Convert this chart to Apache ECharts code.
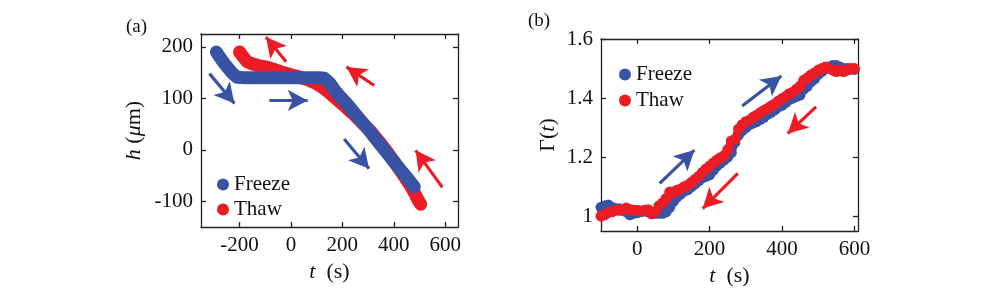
<!DOCTYPE html>
<html>
<head>
<meta charset="utf-8">
<script src="https://cdn.jsdelivr.net/npm/echarts@6/dist/echarts.min.js"></script>
<style>html,body{margin:0;padding:0;background:#fff;}#c{width:996px;height:303px;}</style>
</head>
<body>
<div id="c"></div>
<script>
// ---- Panel (a): h (um) vs t (s)
const freezeA = [[-290,190],[-270,175],[-250,162],[-230,150],[-210,141],[-180,140],[-100,140],[0,140],[60,140],[110,140],[130,139],[150,130],[170,116],[190,104],[220,88],[260,64],[300,40],[340,15],[380,-10],[420,-35],[450,-53],[480,-72]];
const thawA = [[-200,190],[-185,180],[-170,171],[-150,167],[-120,163],[-90,160],[-60,155],[-30,150],[0,146],[30,142],[60,137],[90,131],[115,124],[140,115],[160,106],[190,93],[220,80],[250,66],[280,51],[310,36],[340,18],[370,-1],[400,-22],[430,-44],[460,-66],[480,-83],[495,-98],[505,-106]];
const xTicksA = [-200,0,200,400,600];
const yTicksA = [-100,0,100,200];

// ---- Panel (b): Gamma(t) vs t (s)
const tB = [-100,-90,-80,-70,-60,-50,-40,-30,-20,-10,0,10,20,30,40,50,60,70,80,90,100,110,120,130,140,150,160,170,180,190,200,210,220,230,240,250,260,270,280,290,300,310,320,330,340,350,360,370,380,390,400,410,420,430,440,450,460,470,480,490,500,510,520,530,540,550,560,570,580,590,600];
const freezeB = [1.03,1.035,1.038,1.03,1.025,1.025,1.02,1.015,1.005,1.01,1.012,1.015,1.018,1.015,1.012,1.01,1.01,1.01,1.015,1.03,1.05,1.065,1.075,1.085,1.09,1.1,1.11,1.12,1.13,1.135,1.14,1.155,1.17,1.18,1.19,1.2,1.215,1.25,1.275,1.29,1.3,1.31,1.315,1.32,1.328,1.335,1.345,1.352,1.36,1.37,1.375,1.385,1.395,1.4,1.405,1.41,1.43,1.44,1.455,1.465,1.48,1.49,1.5,1.505,1.51,1.51,1.505,1.5,1.5,1.498,1.497];
const thawB = [1.0,1.005,1.012,1.015,1.02,1.02,1.022,1.028,1.022,1.02,1.02,1.018,1.02,1.022,1.008,1.015,1.035,1.045,1.06,1.082,1.08,1.088,1.092,1.1,1.105,1.115,1.125,1.135,1.148,1.16,1.17,1.18,1.19,1.198,1.205,1.225,1.255,1.26,1.295,1.31,1.32,1.325,1.335,1.342,1.35,1.358,1.365,1.373,1.38,1.39,1.398,1.405,1.415,1.42,1.43,1.44,1.46,1.468,1.478,1.485,1.494,1.5,1.505,1.5,1.495,1.49,1.495,1.49,1.495,1.5,1.5];
const xTicksB = [0,200,400,600];
const yTicksB = [1,1.2,1.4,1.6];

// ---- Arrow annotations (data coordinates: [tail, tip])
const arrowsBlueA = [[[-317,148],[-220,90]],[[-84,96],[65,96]],[[207,21],[304,-37]]];
const arrowsRedA = [[[-19,171],[-97,219]],[[324,125],[216,161]],[[589,-73],[485,-1]]];
const arrowsBlueB = [[[62,1.111],[158,1.224]],[[290,1.373],[398,1.475]]];
const arrowsRedB = [[[278,1.145],[181,1.026]],[[494,1.37],[416,1.28]]];

const BLUE = '#3953a4', RED = '#ec1c24', INK = '#222';
const FONT = 'Liberation Serif';

const zip = (xs, ys) => xs.map((x, i) => [x, ys[i]]);
const mk = (list, color) => ({
  silent: true, symbol: ['none', 'arrow'], symbolSize: [16, 20],
  label: {show: false}, emphasis: {disabled: true},
  lineStyle: {color: color, width: 3.2, type: 'solid'},
  data: list.map(p => [{coord: p[0]}, {coord: p[1]}])
});

function axisPair(dir, gridIndex, min, max, ticks, name, nameGap, fmt) {
  const common = {
    type: 'value', gridIndex, min, max, splitLine: {show: false},
    axisLine: {show: true, onZero: false, lineStyle: {color: INK, width: 1.3}},
    axisTick: {show: true, inside: true, length: 5, customValues: ticks, lineStyle: {color: INK, width: 1.3}}
  };
  const main = Object.assign({}, common, {
    position: dir === 'x' ? 'bottom' : 'left',
    axisLabel: {show: true, customValues: ticks, fontFamily: FONT, fontSize: 21, color: '#111', margin: 8, formatter: fmt},
    name: name, nameLocation: 'middle', nameGap: nameGap,
    nameTextStyle: {fontFamily: FONT, fontSize: 22, color: '#111', rich: {i: {fontFamily: FONT, fontSize: 22, fontStyle: 'italic', color: '#111'}}}
  });
  const mirror = Object.assign({}, common, {
    position: dir === 'x' ? 'top' : 'right',
    axisLabel: {show: false}
  });
  return [main, mirror];
}

const chart = echarts.init(document.getElementById('c'), null, {renderer: 'canvas'});
const xa = axisPair('x', 0, -350, 650, xTicksA, '{i|t}  (s)', 34, v => String(v));
const ya = axisPair('y', 0, -150, 225, yTicksA, '{i|h} ({i|μ}m)', 56, v => String(v));
const xb = axisPair('x', 1, -100, 610, xTicksB, '{i|t}  (s)', 34, v => String(v));
const yb = axisPair('y', 1, 0.95, 1.6, yTicksB, 'Γ({i|t})', 42, v => (v === 1 ? '1' : v.toFixed(1)));

chart.setOption({
  animation: false,
  backgroundColor: '#fff',
  title: [
    {text: '(a)', left: 121, top: 13, textStyle: {fontFamily: FONT, fontSize: 19, fontWeight: 'normal', color: '#111'}},
    {text: '(b)', left: 523, top: 7, textStyle: {fontFamily: FONT, fontSize: 19, fontWeight: 'normal', color: '#111'}}
  ],
  grid: [
    {left: 201, top: 34, width: 257, height: 193},
    {left: 601, top: 39, width: 257, height: 192}
  ],
  legend: [
    {data: ['Freeze', 'Thaw'], orient: 'vertical', left: 212, top: 169, itemWidth: 12, itemHeight: 12, itemGap: 4, icon: 'circle',
     textStyle: {fontFamily: FONT, fontSize: 21, color: '#111', lineHeight: 21}},
    {data: ['Freeze', 'Thaw'], orient: 'vertical', left: 614, top: 59, itemWidth: 12, itemHeight: 12, itemGap: 5, icon: 'circle',
     textStyle: {fontFamily: FONT, fontSize: 21, color: '#111', lineHeight: 21}}
  ],
  xAxis: [xa[0], xa[1], xb[0], xb[1]],
  yAxis: [ya[0], ya[1], yb[0], yb[1]],
  series: [
    {name: 'Thaw', type: 'line', xAxisIndex: 0, yAxisIndex: 0, data: thawA, showSymbol: false, symbol: 'circle',
     itemStyle: {color: RED}, lineStyle: {color: RED, width: 13, cap: 'round', join: 'round'}, z: 2,
     markLine: mk(arrowsRedA, RED)},
    {name: 'Freeze', type: 'line', xAxisIndex: 0, yAxisIndex: 0, data: freezeA, showSymbol: false, symbol: 'circle',
     itemStyle: {color: BLUE}, lineStyle: {color: BLUE, width: 13, cap: 'round', join: 'round'}, z: 3,
     markLine: mk(arrowsBlueA, BLUE)},
    {name: 'Freeze', type: 'line', xAxisIndex: 2, yAxisIndex: 2, data: zip(tB, freezeB), symbol: 'circle', symbolSize: 11, showAllSymbol: true,
     itemStyle: {color: BLUE}, lineStyle: {color: BLUE, width: 8, cap: 'round', join: 'round'}, z: 2,
     markLine: mk(arrowsBlueB, BLUE)},
    {name: 'Thaw', type: 'line', xAxisIndex: 2, yAxisIndex: 2, data: zip(tB, thawB), symbol: 'circle', symbolSize: 11, showAllSymbol: true,
     itemStyle: {color: RED}, lineStyle: {color: RED, width: 8, cap: 'round', join: 'round'}, z: 3,
     markLine: mk(arrowsRedB, RED)}
  ]
});
</script>
</body>
</html>
